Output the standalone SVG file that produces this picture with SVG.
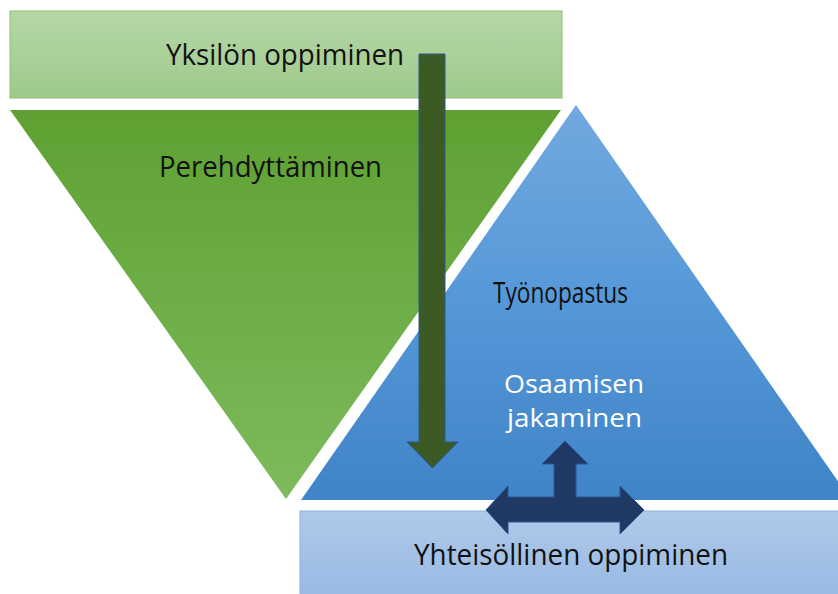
<svg xmlns="http://www.w3.org/2000/svg" width="838" height="594" viewBox="0 0 838 594">
  <defs>
    <linearGradient id="gTopBar" x1="0" y1="0" x2="0" y2="1">
      <stop offset="0" stop-color="#b6d7a8"/>
      <stop offset="1" stop-color="#9fca8b"/>
    </linearGradient>
    <linearGradient id="gGreenTri" x1="0" y1="0" x2="0" y2="1">
      <stop offset="0" stop-color="#5ea132"/>
      <stop offset="1" stop-color="#7dbb5c"/>
    </linearGradient>
    <linearGradient id="gBlueTri" x1="0" y1="0" x2="0" y2="1">
      <stop offset="0" stop-color="#72a9de"/>
      <stop offset="0.5" stop-color="#5598d8"/>
      <stop offset="1" stop-color="#3f84c7"/>
    </linearGradient>
    <linearGradient id="gBottomBar" x1="0" y1="0" x2="0" y2="1">
      <stop offset="0" stop-color="#afc9e9"/>
      <stop offset="1" stop-color="#98b9e3"/>
    </linearGradient>
    <style>
      .lbl { font-family: "Open Sans", "Liberation Sans", sans-serif; font-size: 29px; text-anchor: middle; fill: #111111; }
      .lbl-w { fill: #ffffff; font-size: 26px; }
    </style>
  </defs>

  <rect width="838" height="594" fill="#ffffff"/>

  <!-- Individual learning bar -->
  <g id="yksilon-oppiminen">
    <rect x="10" y="11" width="552" height="87" fill="url(#gTopBar)" stroke="#8fc070" stroke-width="1"/>
    <text class="lbl" x="285" y="65" textLength="238" lengthAdjust="spacingAndGlyphs">Yksilön oppiminen</text>
  </g>

  <!-- Inverted green triangle -->
  <g id="perehdyttaminen">
    <polygon points="10,110 561,110 286,499" fill="url(#gGreenTri)"/>
    <text class="lbl" x="270.5" y="177" textLength="223" lengthAdjust="spacingAndGlyphs">Perehdyttäminen</text>
  </g>

  <!-- Blue triangle -->
  <g id="tyonopastus">
    <polygon points="576,105 851,500 301,500" fill="url(#gBlueTri)"/>
    <text class="lbl" x="560.5" y="303" textLength="135" lengthAdjust="spacingAndGlyphs">Työnopastus</text>
  </g>

  <g id="osaamisen-jakaminen">
    <text class="lbl lbl-w" x="574" y="393" textLength="140" lengthAdjust="spacingAndGlyphs">Osaamisen</text>
    <text class="lbl lbl-w" x="574.5" y="427" textLength="135" lengthAdjust="spacingAndGlyphs">jakaminen</text>
  </g>

  <!-- Community learning bar -->
  <g id="yhteisollinen-oppiminen">
    <rect x="300" y="511" width="545" height="90" fill="url(#gBottomBar)" stroke="#8fb2de" stroke-width="1"/>
    <text class="lbl" x="571" y="565" textLength="314" lengthAdjust="spacingAndGlyphs">Yhteisöllinen oppiminen</text>
  </g>

  <!-- Block arrows -->
  <g id="connectors">
    <polygon points="419,54 445,54 445,442 458,442 432.5,468 407,442 419,442" fill="#3b5a24" stroke="#2f5597" stroke-width="1"/>
    <polygon points="565,441 588,464 576,464 576,497 620,497 620,486 644,510 620,534 620,522 508,522 508,534 486,510 508,486 508,497 554,497 554,464 542,464" fill="#1f3864" stroke="#2c5590" stroke-width="1"/>
  </g>
</svg>
